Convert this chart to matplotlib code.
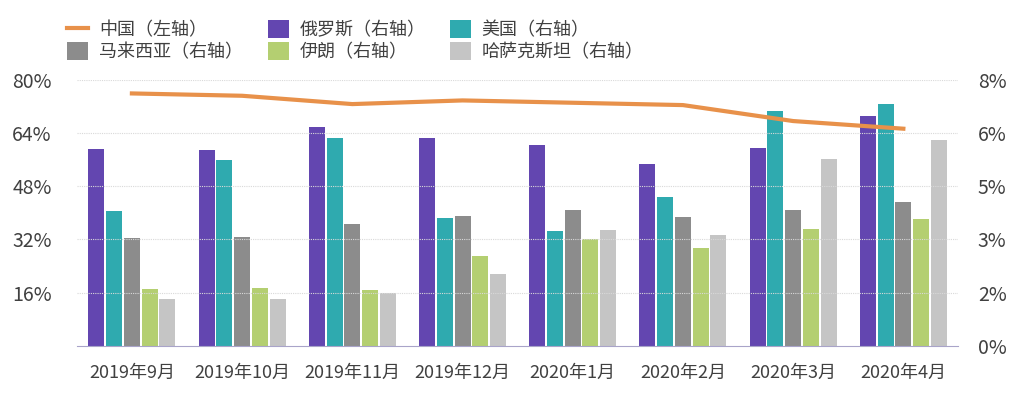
import numpy as np
import matplotlib.pyplot as plt
from matplotlib.ticker import FuncFormatter

plt.rcParams['font.family'] = ['Noto Sans CJK SC', 'DejaVu Sans']

months = ['2019年9月', '2019年10月', '2019年11月', '2019年12月',
          '2020年1月', '2020年2月', '2020年3月', '2020年4月']

# 中国 on left axis (%)
china = [75.9, 75.2, 72.7, 73.8, 73.1, 72.4, 67.6, 65.3]

# right axis (%)
russia = [5.93, 5.89, 6.58, 6.24, 6.05, 5.46, 5.96, 6.91]
usa = [4.05, 5.58, 6.24, 3.86, 3.44, 4.48, 7.07, 7.26]
malaysia = [3.24, 3.27, 3.67, 3.92, 4.10, 3.89, 4.10, 4.33]
iran = [1.72, 1.75, 1.69, 2.70, 3.21, 2.95, 3.52, 3.83]
kazakh = [1.42, 1.42, 1.59, 2.17, 3.49, 3.32, 5.63, 6.19]

bar_names = ['俄罗斯（右轴）', '美国（右轴）', '马来西亚（右轴）', '伊朗（右轴）', '哈萨克斯坦（右轴）']
bar_colors = ['#6346B0', '#2FAAAF', '#8C8C8C', '#B4CF71', '#C5C5C5']
bar_data = [russia, usa, malaysia, iran, kazakh]

fig = plt.figure(figsize=(10.24, 3.99), dpi=100)
ax = fig.add_axes([0.075, 0.133, 0.861, 0.667])
ax2 = ax.twinx()

x = np.arange(len(months))
pitch = 0.161
width = 0.145
bars = []
for i, (vals, c, n) in enumerate(zip(bar_data, bar_colors, bar_names)):
    b = ax2.bar(x + (i - 2) * pitch, vals, width, color=c, label=n, zorder=2)
    bars.append(b)

line, = ax.plot(x, china, color='#E8914A', lw=3, label='中国（左轴）', zorder=5)
ax.set_zorder(ax2.get_zorder() + 1)
ax.patch.set_visible(False)

ax.set_xlim(-0.5, 7.5)
ax.set_ylim(0, 80)
ax2.set_ylim(0, 8)
ax.set_yticks([16, 32, 48, 64, 80])
ax2.set_yticks([0, 1.6, 3.2, 4.8, 6.4, 8.0])
ax.yaxis.set_major_formatter(FuncFormatter(lambda v, p: '%d%%' % v))
ax2.yaxis.set_major_formatter(FuncFormatter(lambda v, p: '%.0f%%' % v))
for yv in [16, 32, 48, 64, 80]:
    ax.axhline(yv, color='#D9D9D9', lw=0.8, ls=(0, (1, 1)), zorder=0)

ax.set_xticks(x)
ax.set_xticklabels(months)
for a in (ax, ax2):
    for s in a.spines.values():
        s.set_visible(False)
    a.tick_params(length=0, colors='#404040')
ax.spines['bottom'].set_visible(True)
ax.spines['bottom'].set_color('#A9A4C9')
ax.tick_params(axis='y', labelsize=14, pad=18)
ax2.tick_params(axis='y', labelsize=14, pad=14)
ax.tick_params(axis='x', labelsize=13, pad=13)

handles = [line, bars[2], bars[0], bars[3], bars[1], bars[4]]
labels = [h.get_label() for h in handles]
fig.legend(handles, labels, ncol=3, loc='upper left', bbox_to_anchor=(0.05, 0.99),
           frameon=False, fontsize=13, handlelength=1.16, handleheight=1.15,
           handletextpad=0.6, columnspacing=1.35, labelspacing=0.15, labelcolor='#404040')

fig.savefig('out.png', dpi=100)
